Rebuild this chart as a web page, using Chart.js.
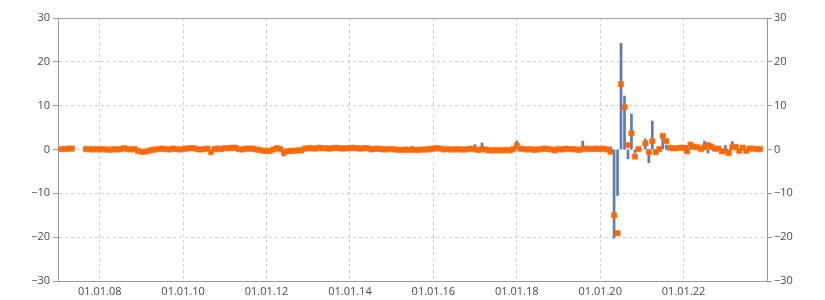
<!DOCTYPE html>
<html>
<head>
<meta charset="utf-8">
<script src="https://cdn.jsdelivr.net/npm/chart.js@4.4.1/dist/chart.umd.min.js"></script>
<style>
  body { margin: 0; background: #fff; }
</style>
</head>
<body>
<canvas id="myChart" width="825" height="300"></canvas>
<script>
// monthly values, Jan 2007 .. Oct 2023
const startYear = 2007;

const orangeValues = [
  0.1, 0.1, 0.2, 0.2, null, null, null, 0.1, 0.1, 0.0, 0.1, 0.0,
  0.1, 0.0, -0.1, 0.1, 0.0, 0.1, 0.3, 0.1, 0.0, 0.1, -0.3, -0.5,
  -0.5, -0.3, -0.1, 0.0, 0.1, 0.2, 0.1, 0.0, 0.2, 0.1, 0.0, 0.1,
  0.2, 0.3, 0.3, 0.1, 0.0, 0.1, 0.2, -0.6, 0.1, 0.2, 0.1, 0.3,
  0.3, 0.4, 0.4, 0.1, 0.0, 0.2, 0.2, 0.2, 0.0, -0.1, -0.3, -0.3,
  -0.3, 0.0, 0.3, 0.1, -0.7, -0.4, -0.3, -0.3, -0.2, -0.2, 0.2, 0.3,
  0.3, 0.2, 0.4, 0.3, 0.3, 0.2, 0.3, 0.4, 0.3, 0.2, 0.3, 0.3,
  0.4, 0.3, 0.2, 0.3, 0.3, 0.1, 0.1, 0.2, 0.1, 0.0, 0.1, 0.1,
  0.0, -0.1, -0.1, 0.0, -0.1, 0.0, -0.1, -0.1, 0.0, 0.0, 0.1, 0.2,
  0.3, 0.2, 0.0, 0.1, 0.0, 0.0, 0.1, 0.0, 0.0, 0.1, 0.2, 0.0,
  -0.1, 0.1, 0.0, -0.2, -0.2, -0.1, -0.2, -0.2, -0.1, -0.2, 0.1, 0.9,
  0.2, 0.1, 0.0, 0.1, -0.1, 0.0, 0.1, 0.2, 0.1, 0.0, -0.2, 0.1,
  0.0, 0.2, 0.1, 0.1, 0.0, -0.1, 0.1, 0.2, 0.1, 0.1, 0.2, 0.1,
  0.2, 0.0, -0.5, -15.0, -19.1, 14.9, 9.7, 1.0, 3.7, -1.6, 0.1, null,
  1.4, -0.6, 1.9, -0.6, 0.1, 3.1, 1.9, 0.4, 0.3, 0.3, 0.4, 0.4,
  -0.4, 1.1, 0.6, 0.5, 0.1, 0.5, 1.0, 0.6, 0.2, 0.2, -0.4, -0.4,
  -0.8, 0.5, 0.6, -0.3, 0.4, -0.3, 0.2, 0.2, 0.1, 0.1
];

const blueValues = [
  0.1, 0.1, 0.2, 0.2, null, null, null, 0.1, 0.1, 0.0, 0.1, 0.0,
  0.1, 0.0, -0.1, 0.1, 0.0, 0.1, 0.3, 0.1, 0.0, 0.1, -0.3, -0.5,
  -0.5, -0.3, -0.1, 0.0, 0.1, 0.2, 0.1, 0.0, 0.2, 0.1, 0.0, 0.1,
  0.2, 0.3, 0.3, 0.1, 0.0, 0.1, 0.2, -0.6, 0.1, 0.2, 0.1, 0.3,
  0.3, 0.4, 0.4, 0.1, 0.0, 0.2, 0.2, 0.2, 0.0, -0.1, -0.3, -0.3,
  -0.3, 0.0, 0.8, 0.1, -1.5, -0.4, -0.3, -0.3, -0.2, -0.2, 0.2, 0.3,
  0.3, 0.2, 0.4, 0.3, 0.3, 0.2, 0.3, 0.4, 0.3, 0.2, 0.3, 0.3,
  0.4, 0.3, 0.2, 0.3, 0.3, -0.6, 0.1, 0.2, 0.1, 0.0, 0.1, 0.1,
  0.0, -0.1, -0.1, 0.0, -0.1, 0.7, -0.1, -0.1, 0.0, 0.0, 0.1, 0.2,
  0.3, 0.2, 0.0, 0.1, 0.0, 0.0, 0.1, 0.0, 0.0, 0.1, 0.2, 1.1,
  -0.6, 1.5, 0.0, -0.2, -0.2, -0.1, -0.2, -0.2, -0.1, -0.2, 0.1, 1.9,
  0.2, 0.1, 0.0, 0.1, -0.6, 0.0, 0.1, 0.2, 0.1, 0.0, -0.2, 0.1,
  0.0, 0.2, 0.1, 0.1, 0.0, -0.5, 1.9, 0.2, 0.1, 0.1, 0.2, 0.1,
  0.2, 0.0, 0.6, -20.2, -10.5, 24.2, 12.2, -2.1, 8.1, -0.7, 0.0, null,
  2.4, -3.0, 6.5, -0.3, 0.1, 3.0, 1.0, 0.4, 0.3, 0.3, 0.4, 0.4,
  0.9, 1.1, 0.6, 0.5, 0.1, 1.9, -0.8, 1.3, 0.2, 0.2, -0.4, 0.9,
  -0.8, 1.8, 0.6, -0.3, 0.4, -0.3, 0.2, 0.2, 0.1, 0.1
];

const tickYears = [2008, 2010, 2012, 2014, 2016, 2018, 2020, 2022];
const yTicks = [-30, -20, -10, 0, 10, 20, 30];

// each value sits at the end of its month
const monthX = orangeValues.map((v, i) => startYear + (i + 1) / 12);

Chart.defaults.font.family = '"Open Sans", sans-serif';
Chart.defaults.font.size = 11;
Chart.defaults.color = '#4a4a4a';

const gridColor = '#cfcfcf';
const axisColor = '#9a9a9a';

function yLabel(v) {
  return v < 0 ? '\u2212' + Math.abs(v) : String(v);
}

const ctx = document.getElementById('myChart');

new Chart(ctx, {
  type: 'bar',
  data: {
    datasets: [{
      type: 'scatter',
      data: monthX.map((x, i) => ({ x: x, y: orangeValues[i] })),
      pointStyle: 'rect',
      radius: 3.8,
      backgroundColor: '#ff6600',
      borderColor: 'rgba(255, 120, 30, 0.55)',
      borderWidth: 1,
      order: 0
    }, {
      type: 'bar',
      data: monthX.map((x, i) => ({ x: x, y: blueValues[i] })),
      backgroundColor: '#5a7bb5',
      barThickness: 2,
      order: 1
    }]
  },
  options: {
    responsive: false,
    animation: false,
    layout: { padding: { top: 18, left: 0, right: 0, bottom: 0 } },
    plugins: {
      legend: { display: false },
      tooltip: { enabled: false }
    },
    scales: {
      x: {
        type: 'linear',
        position: 'bottom',
        min: 2007,
        max: 2024,
        offset: false,
        grid: { color: gridColor, drawTicks: false, offset: false },
        border: { color: axisColor, dash: [3, 3] },
        ticks: {
          padding: 4,
          autoSkip: false,
          maxRotation: 0,
          callback: (v) => '01.01.' + String(v).slice(2)
        },
        afterBuildTicks: (axis) => { axis.ticks = tickYears.map(v => ({ value: v })); },
        afterFit: (axis) => { axis.height = 19; }
      },
      xTop: {
        type: 'linear',
        position: 'top',
        min: 2007,
        max: 2024,
        grid: { display: false },
        ticks: { display: false },
        border: { color: axisColor },
        afterFit: (axis) => { axis.height = 0; }
      },
      y: {
        position: 'left',
        min: -30,
        max: 30,
        grid: { color: gridColor, tickColor: axisColor, tickLength: 5 },
        border: { color: axisColor, dash: [3, 3] },
        ticks: { padding: 3, callback: yLabel },
        afterBuildTicks: (axis) => { axis.ticks = yTicks.map(v => ({ value: v })); },
        afterFit: (axis) => { axis.width = 58; }
      },
      y2: {
        position: 'right',
        min: -30,
        max: 30,
        grid: { drawOnChartArea: false, color: gridColor, tickColor: axisColor, tickLength: 5 },
        border: { color: axisColor },
        ticks: { padding: 2, callback: yLabel },
        afterBuildTicks: (axis) => { axis.ticks = yTicks.map(v => ({ value: v })); },
        afterFit: (axis) => { axis.width = 58; }
      }
    }
  }
});
</script>
</body>
</html>
